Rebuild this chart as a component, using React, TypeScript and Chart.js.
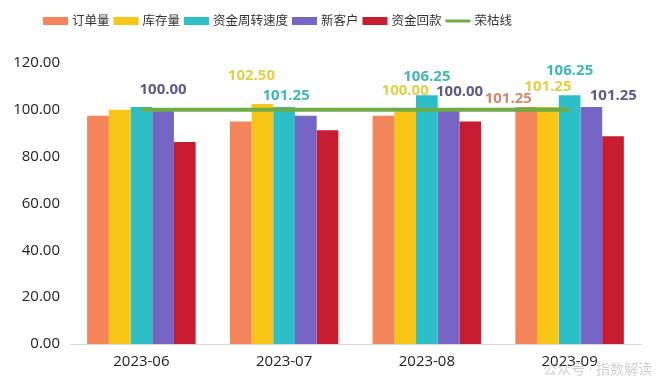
import React, { useEffect, useRef } from "react";
import { Chart, registerables } from "chart.js";

Chart.register(...registerables);

const categories = ["2023-06", "2023-07", "2023-08", "2023-09"];
const orderVol = [97.5, 95, 97.5, 101.25];
const inventory = [100, 102.5, 100, 101.25];
const turnover = [101.25, 101.25, 106.25, 106.25];
const newCustomers = [100, 97.5, 100, 101.25];
const collections = [86.25, 91.25, 95, 88.75];
const boomLine = [100, 100, 100, 100];
const yTicks = [0, 20, 40, 60, 80, 100, 120];

const seriesNames = ["订单量", "库存量", "资金周转速度", "新客户", "资金回款", "荣枯线"];
const barColors = ["#F4845A", "#F7C514", "#2DBFC8", "#7566C6", "#C81D31"];
const labelColors = ["#cf8b71", "#e2cf45", "#3fb7b7", "#5f5a8c", "#b04050"];
const lineColor = "#6FAC46";

// which bar values carry a value label (per series, per category)
const labelShown = [
  [false, false, false, true],
  [false, true, true, true],
  [false, true, true, true],
  [true, false, true, true],
  [false, false, false, false],
];
// label offsets relative to bar top centre [dx, dy]
const labelNudges = [
  [[0, -19], [0, -19], [0, -19], [-18, -8]],
  [[0, -19], [-11, -28], [0, -19], [0, -20]],
  [[0, -19], [2, -11], [0, -18], [0, -24]],
  [[0, -20], [0, -19], [11, -18], [22, -11]],
  [[0, -19], [0, -19], [0, -19], [0, -19]],
];

const FONT = "'Open Sans', 'Noto Sans CJK SC', sans-serif";

const labelPlugin = {
  id: "valueLabels",
  afterDatasetsDraw(chart: any) {
    const ctx = chart.ctx;
    ctx.save();
    ctx.font = `bold 15px ${FONT}`;
    ctx.textAlign = "center";
    ctx.textBaseline = "middle";
    for (let i = 0; i < 5; i++) {
      const meta = chart.getDatasetMeta(i);
      meta.data.forEach((el: any, j: number) => {
        if (!labelShown[i][j]) return;
        const v = chart.data.datasets[i].data[j] as number;
        const [dx, dy] = labelNudges[i][j];
        ctx.fillStyle = labelColors[i];
        ctx.fillText(v.toFixed(2), el.x + dx, el.y + dy);
      });
    }
    ctx.restore();
  },
};

const legendPlugin = {
  id: "customLegend",
  afterDraw(chart: any) {
    const ctx = chart.ctx;
    ctx.save();
    ctx.font = `12.5px ${FONT}`;
    ctx.textBaseline = "middle";
    ctx.textAlign = "left";
    let x = 43;
    const y = 21;
    chart.data.datasets.forEach((ds: any, i: number) => {
      if (ds.type === "line") {
        ctx.strokeStyle = lineColor;
        ctx.lineWidth = 3;
        ctx.beginPath();
        ctx.moveTo(x, y);
        ctx.lineTo(x + 25, y);
        ctx.stroke();
      } else {
        ctx.fillStyle = ds.backgroundColor;
        ctx.fillRect(x, y - 4, 25, 8);
      }
      ctx.fillStyle = "#333333";
      ctx.fillText(ds.label, x + 29, y);
      x += 29 + ctx.measureText(ds.label).width + 4;
    });
    // watermark
    ctx.font = `14px ${FONT}`;
    ctx.fillStyle = "rgba(150,150,150,0.45)";
    ctx.textAlign = "right";
    ctx.fillText("公众号 · 指数解读", 652, 370);
    ctx.restore();
  },
};

export default function App() {
  const ref = useRef<HTMLCanvasElement | null>(null);
  useEffect(() => {
    if (!ref.current) return;
    const barData = [orderVol, inventory, turnover, newCustomers, collections];
    const datasets: any[] = barData.map((d, i) => ({
      type: "bar",
      label: seriesNames[i],
      data: d,
      backgroundColor: barColors[i],
      borderWidth: 0,
      barPercentage: 1,
      categoryPercentage: 0.76,
      order: 1,
    }));
    datasets.push({
      type: "line",
      label: seriesNames[5],
      data: boomLine,
      borderColor: lineColor,
      backgroundColor: lineColor,
      borderWidth: 4,
      pointRadius: 0,
      tension: 0,
      order: 0,
    });
    const chart = new Chart(ref.current, {
      type: "bar",
      data: { labels: categories, datasets },
      options: {
        animation: false,
        responsive: false,
        layout: { padding: { top: 63, right: 19, left: 0, bottom: 0 } },
        plugins: {
          legend: { display: false },
          tooltip: { enabled: false },
        },
        scales: {
          x: {
            grid: { display: false, drawTicks: false },
            border: { display: true, color: "#d9d9d9", width: 1 },
            ticks: { color: "#222222", font: { size: 15, family: FONT }, padding: 9 },
            afterFit: (s: any) => {
              s.height = 39;
            },
          },
          y: {
            min: 0,
            max: 120,
            afterBuildTicks: (s: any) => {
              s.ticks = yTicks.map((v) => ({ value: v }));
            },
            grid: { display: false, drawTicks: false },
            border: { display: false },
            ticks: {
              color: "#222222",
              font: { size: 15, family: FONT },
              padding: 10,
              callback: (v: any) => Number(v).toFixed(2),
            },
            afterFit: (s: any) => {
              s.width = 70;
            },
          },
        },
      },
      plugins: [labelPlugin, legendPlugin],
    });
    return () => chart.destroy();
  }, []);
  return (
    <div style={{ position: "fixed", left: 0, top: 0, width: 660, height: 383, background: "#fff" }}>
      <canvas ref={ref} width={660} height={383} style={{ width: 660, height: 383, display: "block" }} />
    </div>
  );
}
